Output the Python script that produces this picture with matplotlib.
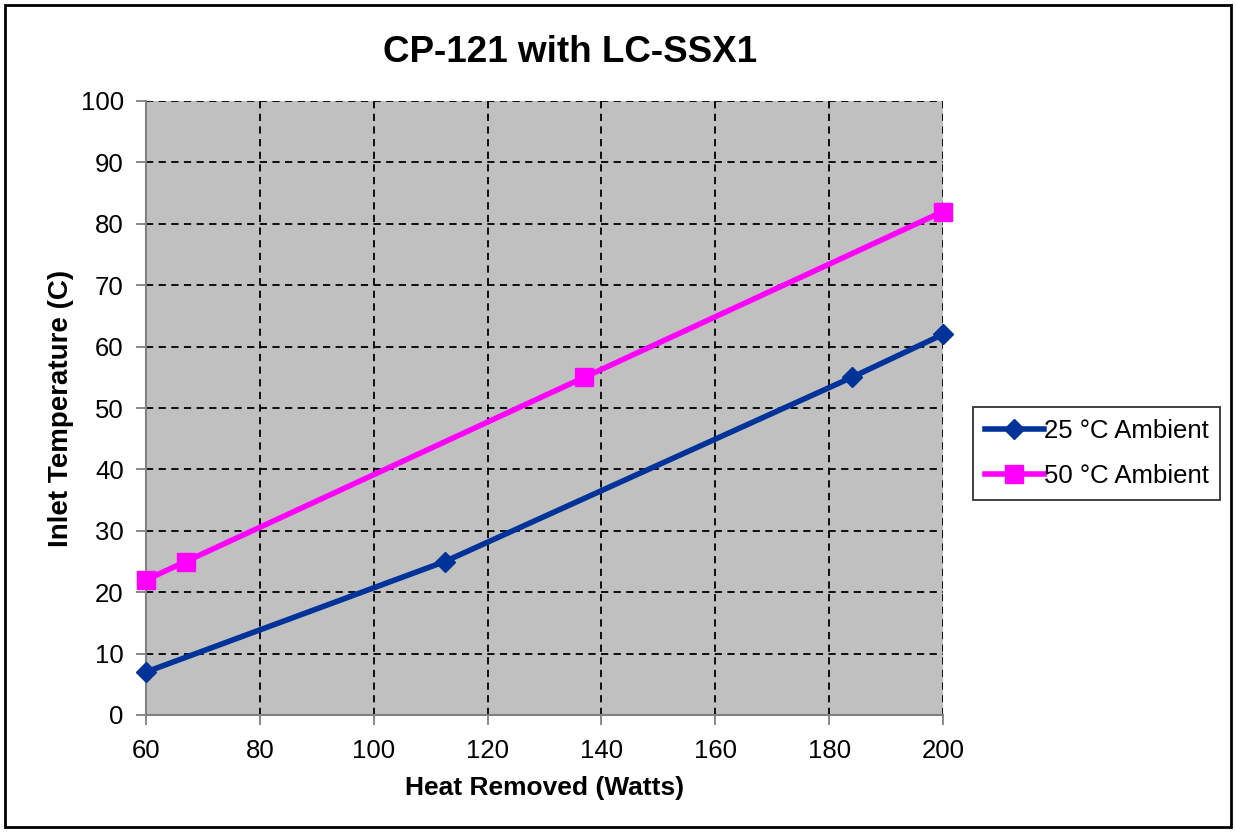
import matplotlib
matplotlib.use('Agg')
import matplotlib.pyplot as plt
from matplotlib.patches import Rectangle

plt.rcParams['font.family'] = ['Liberation Sans', 'DejaVu Sans']

# datos
x_25 = [60, 112.5, 184, 200]
y_25 = [7, 25, 55, 62]
x_50 = [60, 67, 137, 200]
y_50 = [22, 25, 55, 82]
etiquetas = ['25 °C Ambient', '50 °C Ambient']
titulo = 'CP-121 with LC-SSX1'

fig = plt.figure(figsize=(12.36, 8.32), dpi=100)
ax = fig.add_axes([146/1236, 1 - 715/832, (943-146)/1236, (715-101)/832])
ax.set_facecolor('#C0C0C0')

ax.plot(x_25, y_25, color='#003399', lw=4, marker='D', ms=10, label=etiquetas[0],
        zorder=4, clip_on=False)
ax.plot(x_50, y_50, color='#FF00FF', lw=4, marker='s', ms=13, label=etiquetas[1],
        zorder=4, clip_on=False)

ax.set_xlim(60, 200)
ax.set_ylim(0, 100)
ax.set_xticks(range(60, 201, 20))
ax.set_yticks(range(0, 101, 10))
ax.grid(True, color='black', ls=(0, (4, 3)), lw=1.3)
ax.set_axisbelow(True)
for s in ['top', 'right']:
    ax.spines[s].set_visible(False)
for s in ['left', 'bottom']:
    ax.spines[s].set_color('#808080')
    ax.spines[s].set_linewidth(1.5)
ax.tick_params(direction='out', length=7, width=1.3, color='#808080',
               labelsize=18.5)
ax.tick_params(axis='y', pad=9)
ax.tick_params(axis='x', pad=10)

ax.set_xlabel('Heat Removed (Watts)', fontsize=19, fontweight='bold', labelpad=10)
ax.set_ylabel('Inlet Temperature (C)', fontsize=20, fontweight='bold', labelpad=5)
fig.text(570/1236, 1 - 52/832, titulo, fontsize=26.5, fontweight='bold',
         ha='center', va='center')

leg = fig.legend(loc='upper left', bbox_to_anchor=(973/1236, 1 - 407/832),
                 fontsize=18.5, frameon=True, fancybox=False, handlelength=2.3,
                 handletextpad=0.0, borderpad=0.45, labelspacing=0.85,
                 borderaxespad=0)
leg.get_frame().set_edgecolor('black')
leg.get_frame().set_linewidth(1.3)

# borde exterior
fig.patches.append(Rectangle((5/1236, 5/832), 1 - 10/1236, 1 - 10/832,
                             transform=fig.transFigure, fill=False,
                             edgecolor='black', lw=2))

fig.savefig('out.png', dpi=100)
plt.close(fig)
